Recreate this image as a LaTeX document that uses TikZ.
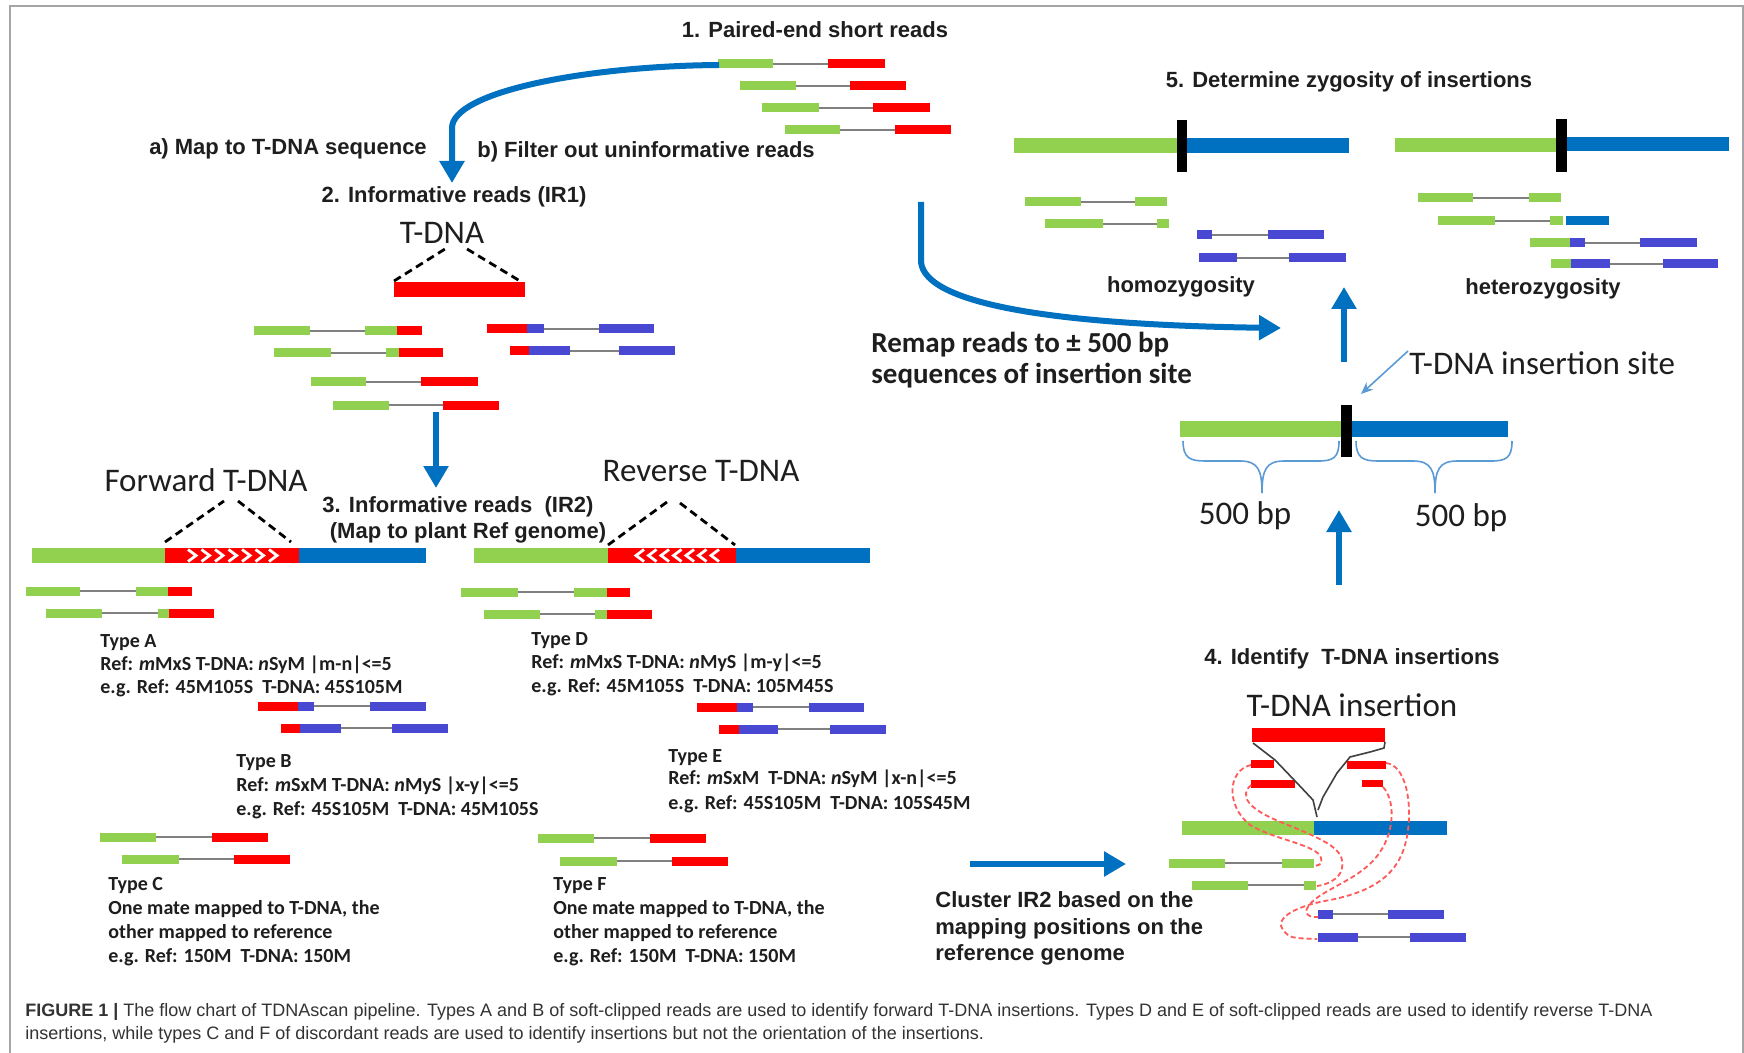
\documentclass[tikz,border=0pt]{standalone}
\usepackage{fontspec}
\setmainfont{Liberation Sans}
\newfontfamily\calfont{Carlito}
\usetikzlibrary{arrows.meta}
\definecolor{cgreen}{RGB}{146,208,80}
\definecolor{cblue}{RGB}{0,112,192}
\definecolor{cred}{RGB}{255,0,0}
\definecolor{cpurp}{RGB}{72,72,210}
\definecolor{cgray}{RGB}{128,128,128}
\definecolor{clblue}{RGB}{91,155,213}
\definecolor{cdash}{RGB}{255,90,90}
\definecolor{cframe}{RGB}{165,165,165}
\definecolor{ctext}{RGB}{30,30,30}
\newcommand\rseg[4]{\fill[#1] (#2,#4-4.5) rectangle (#3,#4+4.5);}
\newcommand\rlink[3]{\draw[rlinkstyle] (#1,#3) -- (#2,#3);}
\tikzset{
 head/.style={font=\bfseries\fontsize{11}{13}\selectfont, inner sep=0pt, anchor=base, text=ctext},
 headw/.style={head, anchor=base west},
 bigtxt/.style={font=\calfont\fontsize{16.5}{19}\selectfont, inner sep=0pt, anchor=base, text=ctext},
 typetxt/.style={font=\calfont\bfseries\fontsize{10}{12}\selectfont, inner sep=0pt, anchor=base west, text=ctext},
 remaptxt/.style={font=\calfont\bfseries\fontsize{14.5}{17}\selectfont, inner sep=0pt, anchor=base west, text=ctext},
 captxt/.style={font=\fontsize{9}{11}\selectfont, inner sep=0pt, anchor=base west, text=black!80},
 bigarrow/.style={draw=cblue, line width=3pt, -{Triangle[width=12pt,length=11pt]}},
 rlinkstyle/.style={draw=cgray, line width=1.2pt},
 tri/.style={draw=black, line width=1.4pt, dash pattern=on 4pt off 2.5pt},
 reddash/.style={draw=cdash, line width=0.9pt, dash pattern=on 2.5pt off 1.5pt},
 brace/.style={draw=clblue, line width=0.8pt},
 vline/.style={draw=black!75, line width=0.8pt},
}
\begin{document}
\begin{tikzpicture}[x=0.5pt,y=-0.5pt]
\useasboundingbox (0,0) rectangle (1744,1053);
\fill[white] (0,0) rectangle (1744,1053);
\draw[cframe, line width=0.8pt] (10,1053) -- (10,6) -- (1743,6) -- (1743,1053);

% ---------- 1. paired-end reads
\node[head] (h1) at (815,38) {1. Paired-end short reads};
\rlink{773}{828}{64}\rseg{cgreen}{718}{773}{64}\rseg{cred}{828}{885}{64}
\rlink{796}{850}{86}\rseg{cgreen}{740}{796}{86}\rseg{cred}{850}{906}{86}
\rlink{819}{873}{108}\rseg{cgreen}{762}{819}{108}\rseg{cred}{873}{930}{108}
\rlink{840}{895}{130}\rseg{cgreen}{785}{840}{130}\rseg{cred}{895}{951}{130}
\coordinate (r1start) at (719,65);
\coordinate (ir1top) at (452,183);
\draw[bigarrow] (r1start) .. controls (585,66) and (452,92) .. (452,128) -- (ir1top);
\node[head] (ha) at (288,155) {a) Map to T-DNA sequence};
\node[head] (hb) at (646,158) {b) Filter out uninformative reads};
\node[head] (h2) at (454,203) {2. Informative reads (IR1)};

% ---------- 2. IR1
\node[bigtxt] (tdna1) at (442,244) {T-DNA};
\draw[tri] (394,281) -- (445,249);
\draw[tri] (467,249) -- (520,281);
\fill[cred] (394,282) rectangle (525,297);
\rlink{310}{365}{331}\rseg{cgreen}{254}{310}{331}\rseg{cgreen}{365}{397}{331}\rseg{cred}{397}{422}{331}
\rlink{331}{386}{353}\rseg{cgreen}{274}{331}{353}\rseg{cgreen}{386}{399}{353}\rseg{cred}{399}{443}{353}
\rlink{366}{421}{382}\rseg{cgreen}{311}{366}{382}\rseg{cred}{421}{478}{382}
\rlink{389}{443}{405}\rseg{cgreen}{333}{389}{405}\rseg{cred}{443}{499}{405}
\rlink{544}{599}{329}\rseg{cred}{487}{527}{329}\rseg{cpurp}{527}{544}{329}\rseg{cpurp}{599}{654}{329}
\rlink{570}{619}{351}\rseg{cred}{510}{529}{351}\rseg{cpurp}{529}{570}{351}\rseg{cpurp}{619}{675}{351}
\coordinate (ir1bot) at (436,412);
\coordinate (ir2top) at (436,488);
\draw[bigarrow] (ir1bot) -- (ir2top);

% ---------- 3. IR2
\node[bigtxt] (fwd) at (206,491) {Forward T-DNA};
\node[bigtxt] (rev) at (701,481) {Reverse T-DNA};
\node[head] (h3a) at (458,512) {3. Informative reads\ \ (IR2)};
\node[head] (h3b) at (468,538) {(Map to plant Ref genome)};
\draw[tri] (165,542) -- (224,501);
\draw[tri] (238,501) -- (291,542);
\draw[tri] (608,545) -- (667,502);
\draw[tri] (680,503) -- (735,545);
\fill[cgreen] (32,548) rectangle (165,563);
\fill[cred] (165,548) rectangle (299,563);
\fill[cblue] (299,548) rectangle (426,563);
\foreach \i in {0,...,6} {\draw[white, line width=1.4pt] ({188+13.5*\i},549.5) -- ({196+13.5*\i},555.5) -- ({188+13.5*\i},561.5);}
\fill[cgreen] (474,548) rectangle (608,563);
\fill[cred] (608,548) rectangle (736,563);
\fill[cblue] (736,548) rectangle (870,563);
\foreach \i in {0,...,6} {\draw[white, line width=1.4pt] ({644+12.5*\i},549.5) -- ({636+12.5*\i},555.5) -- ({644+12.5*\i},561.5);}

% Type A
\rlink{80}{136}{591}\rseg{cgreen}{26}{80}{591}\rseg{cgreen}{136}{168}{591}\rseg{cred}{168}{192}{591}
\rlink{102}{158}{613}\rseg{cgreen}{46}{102}{613}\rseg{cgreen}{158}{169}{613}\rseg{cred}{169}{214}{613}
\node[typetxt] (ta1) at (100,647) {Type A};
\node[typetxt] (ta2) at (100,670) {Ref: \textit{m}MxS T-DNA: \textit{n}SyM |m-n|<=5};
\node[typetxt] (ta3) at (100,693) {e.g. Ref: 45M105S\ \ T-DNA: 45S105M};
% Type D
\rlink{518}{574}{592}\rseg{cgreen}{461}{518}{592}\rseg{cgreen}{574}{607}{592}\rseg{cred}{607}{630}{592}
\rlink{540}{595}{614}\rseg{cgreen}{484}{540}{614}\rseg{cgreen}{595}{607}{614}\rseg{cred}{607}{652}{614}
\node[typetxt] (td1) at (531,645) {Type D};
\node[typetxt] (td2) at (531,668) {Ref: \textit{m}MxS T-DNA: \textit{n}MyS |m-y|<=5};
\node[typetxt] (td3) at (531,692) {e.g. Ref: 45M105S\ \ T-DNA: 105M45S};
% Type B
\rlink{314}{370}{706}\rseg{cred}{258}{298}{706}\rseg{cpurp}{298}{314}{706}\rseg{cpurp}{370}{426}{706}
\rlink{341}{392}{728}\rseg{cred}{281}{300}{728}\rseg{cpurp}{300}{341}{728}\rseg{cpurp}{392}{448}{728}
\node[typetxt] (tb1) at (236,767) {Type B};
\node[typetxt] (tb2) at (236,791) {Ref: \textit{m}SxM T-DNA: \textit{n}MyS |x-y|<=5};
\node[typetxt] (tb3) at (236,815) {e.g. Ref: 45S105M\ \ T-DNA: 45M105S};
% Type E
\rlink{753}{809}{707}\rseg{cred}{697}{737}{707}\rseg{cpurp}{737}{753}{707}\rseg{cpurp}{809}{864}{707}
\rlink{778}{830}{729}\rseg{cred}{719}{739}{729}\rseg{cpurp}{739}{778}{729}\rseg{cpurp}{830}{886}{729}
\node[typetxt] (te1) at (668,762) {Type E};
\node[typetxt] (te2) at (668,784) {Ref: \textit{m}SxM\ \ T-DNA: \textit{n}SyM |x-n|<=5};
\node[typetxt] (te3) at (668,809) {e.g. Ref: 45S105M\ \ T-DNA: 105S45M};
% Type C
\rlink{156}{212}{837}\rseg{cgreen}{100}{156}{837}\rseg{cred}{212}{268}{837}
\rlink{179}{234}{859}\rseg{cgreen}{122}{179}{859}\rseg{cred}{234}{290}{859}
\node[typetxt] (tc1) at (108,890) {Type C};
\node[typetxt] (tc2) at (108,914) {One mate mapped to T-DNA, the};
\node[typetxt] (tc3) at (108,938) {other mapped to reference};
\node[typetxt] (tc4) at (108,962) {e.g. Ref: 150M\ \ T-DNA: 150M};
% Type F
\rlink{594}{650}{838}\rseg{cgreen}{538}{594}{838}\rseg{cred}{650}{706}{838}
\rlink{617}{672}{861}\rseg{cgreen}{560}{617}{861}\rseg{cred}{672}{728}{861}
\node[typetxt] (tf1) at (553,890) {Type F};
\node[typetxt] (tf2) at (553,914) {One mate mapped to T-DNA, the};
\node[typetxt] (tf3) at (553,938) {other mapped to reference};
\node[typetxt] (tf4) at (553,962) {e.g. Ref: 150M\ \ T-DNA: 150M};

% ---------- 4. identify insertions
\coordinate (clA) at (970,864);
\coordinate (clB) at (1126,864);
\draw[bigarrow] (clA) -- (clB);
\node[headw] (cl1) at (935,907) {Cluster IR2 based on the};
\node[headw] (cl2) at (935,934) {mapping positions on the};
\node[headw] (cl3) at (935,960) {reference genome};
\node[head] (h4) at (1352,664) {4. Identify\ \ T-DNA insertions};
\node[bigtxt] (tins) at (1352,716) {T-DNA insertion};
\fill[cred] (1252,728) rectangle (1385,742);
\fill[cred] (1251,760) rectangle (1274,768);
\fill[cred] (1251,780) rectangle (1295,788);
\fill[cred] (1347,761) rectangle (1386,769);
\fill[cred] (1362,780) rectangle (1383,787);
\fill[cgreen] (1182,821) rectangle (1314,835);
\fill[cblue] (1314,821) rectangle (1447,835);
\rlink{1225}{1282}{863}\rseg{cgreen}{1169}{1225}{863}\rseg{cgreen}{1282}{1314}{863}
\rlink{1248}{1304}{885}\rseg{cgreen}{1192}{1248}{885}\rseg{cgreen}{1304}{1316}{885}
\rlink{1333}{1388}{914}\rseg{cpurp}{1318}{1333}{914}\rseg{cpurp}{1388}{1444}{914}
\rlink{1358}{1410}{937}\rseg{cpurp}{1318}{1358}{937}\rseg{cpurp}{1410}{1466}{937}
\draw[vline] (1253,743) -- (1275,760) -- (1297,783) -- (1313,800) -- (1317,817);
\draw[vline] (1385,742) -- (1384,748) -- (1370,752) -- (1350,757) -- (1337,773) -- (1323,797) -- (1318,810);
\draw[reddash] (1251,765) .. controls (1228,770) and (1225,805) .. (1250,825) .. controls (1275,840) and (1318,845) .. (1321,858) .. controls (1322,864) .. (1315,866);
\draw[reddash] (1251,785) .. controls (1240,795) and (1245,808) .. (1283,823) .. controls (1330,842) and (1345,850) .. (1342,868) .. controls (1340,880) and (1325,885) .. (1317,886);
\draw[reddash] (1386,763) .. controls (1405,765) and (1412,800) .. (1408,830) .. controls (1403,870) and (1380,890) .. (1330,900) .. controls (1290,907) and (1275,920) .. (1283,930) .. controls (1290,938) .. (1317,939);
\draw[reddash] (1383,787) .. controls (1395,800) and (1395,830) .. (1380,852) .. controls (1365,875) and (1335,885) .. (1318,897) .. controls (1300,910) and (1305,918) .. (1318,917);

% ---------- insertion site
\coordinate (up2a) at (1339,585);
\coordinate (up2b) at (1339,510);
\draw[bigarrow] (up2a) -- (up2b);
\fill[cgreen] (1180,421) rectangle (1341,437);
\fill[cblue] (1352,421) rectangle (1508,437);
\fill[black] (1341,405) rectangle (1352,457);
\draw[brace] (1183,441) .. controls (1183,458) and (1190,461) .. (1205,461) -- (1240,461) .. controls (1258,461) and (1262,470) .. (1262,493) .. controls (1262,470) and (1266,461) .. (1284,461) -- (1318,461) .. controls (1333,461) and (1339,458) .. (1339,441);
\draw[brace] (1356,441) .. controls (1356,458) and (1363,461) .. (1378,461) -- (1413,461) .. controls (1431,461) and (1435,470) .. (1435,493) .. controls (1435,470) and (1439,461) .. (1457,461) -- (1491,461) .. controls (1506,461) and (1512,458) .. (1512,441);
\node[bigtxt] (bp1) at (1245,524) {500 bp};
\node[bigtxt] (bp2) at (1461,526) {500 bp};
\node[bigtxt, anchor=base west] (site) at (1409,374) {T-DNA insertion site};
\coordinate (sitetip) at (1361,394);
\draw[clblue, line width=0.8pt, -{Stealth[length=6pt,width=5pt]}] (1408,351) -- (sitetip);
\coordinate (up1a) at (1344,362);
\coordinate (up1b) at (1344,287);
\draw[bigarrow] (up1a) -- (up1b);
\node[remaptxt] (rm1) at (871,353) {Remap reads to ± 500 bp};
\node[remaptxt] (rm2) at (871,384) {sequences of insertion site};
\coordinate (rmA) at (921,202);
\coordinate (rmB) at (1281,328);
\draw[bigarrow] (rmA) -- (921,262) .. controls (925,305) and (1060,325) .. (rmB);

% ---------- 5. zygosity
\node[head] (h5) at (1349,88) {5. Determine zygosity of insertions};
\fill[cgreen] (1014,138) rectangle (1177,153);
\fill[cblue] (1187,138) rectangle (1349,153);
\fill[black] (1177,120) rectangle (1187,172);
\fill[cgreen] (1395,138) rectangle (1556,152);
\fill[cblue] (1567,137) rectangle (1729,151);
\fill[black] (1556,119) rectangle (1567,172);
\rlink{1081}{1135}{202}\rseg{cgreen}{1025}{1081}{202}\rseg{cgreen}{1135}{1167}{202}
\rlink{1103}{1157}{224}\rseg{cgreen}{1045}{1103}{224}\rseg{cgreen}{1157}{1169}{224}
\rlink{1212}{1268}{235}\rseg{cpurp}{1197}{1212}{235}\rseg{cpurp}{1268}{1324}{235}
\rlink{1237}{1289}{258}\rseg{cpurp}{1199}{1237}{258}\rseg{cpurp}{1289}{1346}{258}
\node[head] (homo) at (1181,293) {homozygosity};
\rlink{1473}{1529}{198}\rseg{cgreen}{1418}{1473}{198}\rseg{cgreen}{1529}{1561}{198}
\rlink{1495}{1550}{221}\rseg{cgreen}{1438}{1495}{221}\rseg{cgreen}{1550}{1563}{221}\rseg{cblue}{1566}{1609}{221}
\rlink{1585}{1640}{243}\rseg{cgreen}{1530}{1570}{243}\rseg{cpurp}{1570}{1585}{243}\rseg{cpurp}{1640}{1697}{243}
\rlink{1610}{1663}{264}\rseg{cgreen}{1551}{1571}{264}\rseg{cpurp}{1571}{1610}{264}\rseg{cpurp}{1663}{1718}{264}
\node[head] (hetero) at (1543,295) {heterozygosity};

% ---------- caption
\node[captxt] (cap1) at (25,1016) {\textbf{FIGURE 1 |} The flow chart of TDNAscan pipeline. Types A and B of soft-clipped reads are used to identify forward T-DNA insertions. Types D and E of soft-clipped reads are used to identify reverse T-DNA};
\node[captxt] (cap2) at (25,1039) {insertions, while types C and F of discordant reads are used to identify insertions but not the orientation of the insertions.};
\end{tikzpicture}
\end{document}
